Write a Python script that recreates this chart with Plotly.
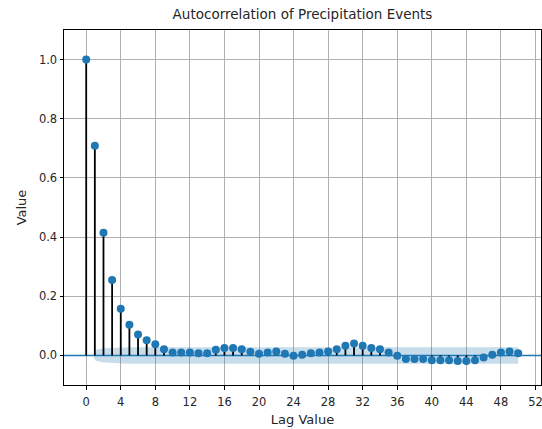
import plotly.graph_objects as go

lags = list(range(51))
acf_values = [1.0, 0.709, 0.415, 0.255, 0.158, 0.104, 0.071, 0.051, 0.038, 0.021,
              0.010, 0.010, 0.010, 0.007, 0.007, 0.019, 0.025, 0.025, 0.021, 0.012,
              0.006, 0.010, 0.013, 0.006, -0.001, 0.002, 0.007, 0.010, 0.013, 0.021,
              0.033, 0.040, 0.033, 0.025, 0.021, 0.010, -0.001, -0.012, -0.012, -0.012,
              -0.016, -0.016, -0.016, -0.019, -0.019, -0.016, -0.007, 0.002, 0.010, 0.013,
              0.007]
band_lags = [0.9, 1.1] + list(range(2, 51))
band_half = [0.010, 0.018, 0.024, 0.026, 0.027, 0.028] + [0.028] * 45

band_upper = band_half
band_lower = [-h for h in band_half]

stem_x, stem_y = [], []
for k, v in zip(lags, acf_values):
    stem_x += [k, k, None]
    stem_y += [0, v, None]

fig = go.Figure()
fig.add_trace(go.Scatter(x=band_lags, y=band_lower, mode="lines", line=dict(width=0),
                         showlegend=False, hoverinfo="skip"))
fig.add_trace(go.Scatter(x=band_lags, y=band_upper, mode="lines", line=dict(width=0),
                         fill="tonexty", fillcolor="rgba(31,119,180,0.25)",
                         showlegend=False, hoverinfo="skip"))
fig.add_trace(go.Scatter(x=[-2.57, 52.64], y=[0, 0], mode="lines",
                         line=dict(color="#1f77b4", width=1.5), showlegend=False))
fig.add_trace(go.Scatter(x=stem_x, y=stem_y, mode="lines",
                         line=dict(color="black", width=1.8), showlegend=False))
fig.add_trace(go.Scatter(x=lags, y=acf_values, mode="markers",
                         marker=dict(color="#1f77b4", size=8), showlegend=False))

fam = "DejaVu Sans"
txt = "#262626"
fig.update_layout(
    width=542, height=429,
    margin=dict(l=64, r=1, t=30, b=44, autoexpand=False),
    paper_bgcolor="white", plot_bgcolor="white",
    font=dict(family=fam, size=11.5, color=txt),
    title=dict(text="Autocorrelation of Precipitation Events", x=302.5 / 542, xanchor="center",
               xref="container", y=1 - 14 / 429, yanchor="middle",
               font=dict(family=fam, size=13.5, color=txt)),
)
fig.update_xaxes(range=[-2.57, 52.64], tickmode="array", tickvals=list(range(0, 53, 4)),
                 showgrid=True, gridcolor="#b0b0b0", gridwidth=1,
                 showline=True, linecolor="black", linewidth=1, mirror=True,
                 ticks="outside", ticklen=3.5, tickcolor="black", zeroline=False,
                 automargin=False, ticklabeloverflow="allow", ticklabelstandoff=3,
                 tickfont=dict(family=fam, size=11.5, color=txt),
                 title=dict(text="Lag Value", standoff=6, font=dict(family=fam, size=13, color=txt)))
fig.update_yaxes(range=[-0.1, 1.1], tickmode="array", tickvals=[0, 0.2, 0.4, 0.6, 0.8, 1.0],
                 ticktext=["0.0", "0.2", "0.4", "0.6", "0.8", "1.0"],
                 showgrid=True, gridcolor="#b0b0b0", gridwidth=1,
                 showline=True, linecolor="black", linewidth=1, mirror=True,
                 ticks="outside", ticklen=3.5, tickcolor="black", zeroline=False,
                 automargin=False, tickfont=dict(family=fam, size=11.5, color=txt),
                 title=dict(text="Value", standoff=9, font=dict(family=fam, size=13, color=txt)))

fig.write_html("out.html", config={"displayModeBar": False},
               post_script="document.body.style.margin='0';document.body.style.overflow='hidden';")
